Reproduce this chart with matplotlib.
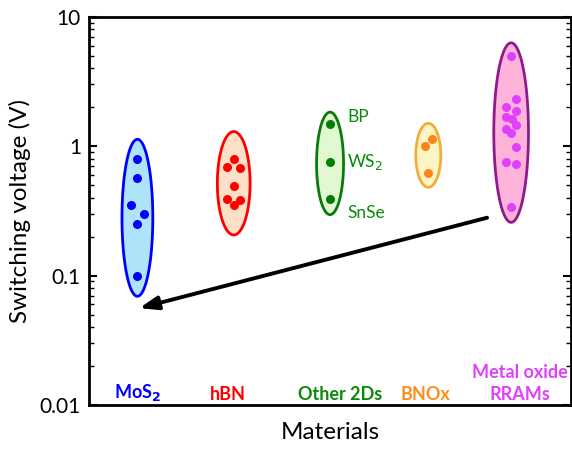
import numpy as np
import matplotlib
matplotlib.use("Agg")
from matplotlib import pyplot as plt
from matplotlib.transforms import blended_transform_factory

plt.rcParams['font.family'] = ['Lato', 'DejaVu Sans']

#------------------------------------------------------------
# Data (switching voltage in V)
groups = ['MoS$_\\mathbf{2}$', 'hBN', 'Other 2Ds', 'BNOx', 'Metal oxide\nRRAMs']
group_x = [0.5, 1.5, 2.5, 3.52, 4.38]
label_x = [0.5, 1.44, 2.6, 3.49, 4.47]

v_mos2 = [0.80, 0.57, 0.35, 0.30, 0.25, 0.10]
dx_mos2 = [0, 0, -0.07, 0.07, 0, 0]
v_hbn = [0.80, 0.69, 0.68, 0.49, 0.39, 0.35, 0.385]
dx_hbn = [0, -0.07, 0.07, 0, -0.07, 0, 0.07]
v_2d = [1.49, 0.75, 0.39]
dx_2d = [0, 0, 0]
names_2d = ['BP', 'WS$_2$', 'SnSe']
shift_2d = [1.12, 1.0, 0.78]   # label offset (factor) from each point
v_bnox = [1.14, 1.00, 0.62]
dx_bnox = [0.04, -0.03, 0.0]
v_mox = [5.0, 2.33, 2.02, 1.88, 1.69, 1.63, 1.46, 1.36, 1.27, 0.99, 0.76, 0.73, 0.34]
dx_mox = [0, 0.05, -0.05, 0.05, -0.05, 0.01, 0.05, -0.05, 0, 0.05, -0.05, 0.05, 0]

values = [v_mos2, v_hbn, v_2d, v_bnox, v_mox]
offsets = [dx_mos2, dx_hbn, dx_2d, dx_bnox, dx_mox]

dot_colors = ['#0000ff', '#ff0000', '#008000', '#ff8418', '#e040fb']
edge_colors = ['#0000ff', '#ff0000', '#0a7a0a', '#f2ad3a', '#8e1a8e']
fill_colors = ['#aee3f9', '#fde0c6', '#e2f8d2', '#fdf5c4', '#ffb3da']
text_colors = ['#0000ff', '#ff0000', '#0a8a0a', '#ff8c1a', '#e040fb']

# ellipse half-width (x units) and padding in decades above / below the data
ell_w = [0.16, 0.17, 0.14, 0.13, 0.18]
pad_top = [0.15, 0.21, 0.09, 0.12, 0.10]
pad_bot = [0.16, 0.23, 0.12, 0.11, 0.12]

# arrow from the oxide cloud down to below MoS2
arrow_start = (4.13, 0.28)
arrow_end = (0.52, 0.056)

#------------------------------------------------------------
fig = plt.figure(figsize=(5.72, 4.55), dpi=100)
fig.subplots_adjust(left=0.156, right=0.998, bottom=0.110, top=0.963)
ax = fig.add_subplot(111)
ax.set_yscale('log')
ax.set_xlim(0, 5)
ax.set_ylim(0.01, 10)

t = np.linspace(0, 2 * np.pi, 300)
for i, vals in enumerate(values):
    lv = np.log10(vals)
    top = lv.max() + pad_top[i]
    bot = lv.min() - pad_bot[i]
    cy = (top + bot) / 2
    hy = (top - bot) / 2
    ex = group_x[i] + ell_w[i] * np.cos(t)
    ey = 10 ** (cy + hy * np.sin(t))
    ax.fill(ex, ey, facecolor=fill_colors[i], edgecolor=edge_colors[i],
            lw=2, zorder=2)
    xs = group_x[i] + np.array(offsets[i])
    ax.plot(xs, vals, 'o', color=dot_colors[i], ms=6.5, mec='none', zorder=3)

# labels for the other 2D materials
for v, name, f in zip(v_2d, names_2d, shift_2d):
    ax.text(group_x[2] + 0.18, v * f, name, color='#0a8a0a', fontsize=12.5,
            va='center', ha='left')

ax.annotate('', xy=arrow_end, xytext=arrow_start,
            arrowprops=dict(arrowstyle='-|>,head_length=1.1,head_width=0.4',
                            color='black', lw=2.8, shrinkA=0, shrinkB=0),
            zorder=4)

trans = blended_transform_factory(ax.transData, ax.transAxes)
for i, g in enumerate(groups):
    ax.text(label_x[i], 0.005, g, transform=trans, ha='center', va='bottom',
            color=text_colors[i], fontsize=13, fontweight='bold',
            linespacing=1.35)

ax.set_ylabel('Switching voltage (V)', fontsize=17.5, labelpad=6)
ax.set_xlabel('Materials', fontsize=17.5, labelpad=12)
ax.set_xticks([])
ax.set_yticks([0.01, 0.1, 1, 10])
ax.set_yticklabels(['0.01', '0.1', '1', '10'], fontsize=15)
ax.tick_params(axis='y', which='major', direction='in', length=6, width=1.5,
               right=True, pad=6)
ax.tick_params(axis='y', which='minor', direction='in', length=3.5, width=1,
               right=True)
for s in ax.spines.values():
    s.set_linewidth(2)

fig.savefig('out.png', dpi=100)
